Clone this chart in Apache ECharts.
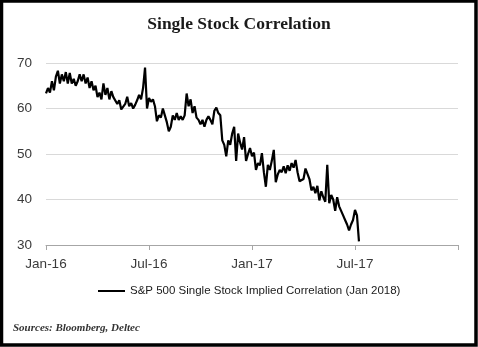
<!DOCTYPE html>
<html>
<head>
<meta charset="utf-8">
<script src="https://cdn.jsdelivr.net/npm/echarts@6/dist/echarts.min.js"></script>
<style>
html,body{margin:0;padding:0;background:#fff;}
#chart{width:478px;height:347px;}
</style>
</head>
<body>
<div id="chart"></div>
<script>
// Half-week steps from Jan-16 to Jan-18 (208 steps), ticks every 52 steps (half a year)
var tickLabels = ['Jan-16', 'Jul-16', 'Jan-17', 'Jul-17', ''];
var stepsPerTick = 52;
var totalSteps = 208;
var seriesName = 'S&P 500 Single Stock Implied Correlation (Jan 2018)';
var correlation = [63.3,64.5,63.5,66,64,67,68.3,65.5,67.5,66,68,65.5,67.8,65.5,66.5,65,66,67.5,66,67.5,
65.5,66.8,64.5,66,64,65,62.5,63.5,62,65.5,63,64.5,62,63.8,62.5,62.3,61,61.8,59.8,59.5,
61,62.6,60.5,61.2,60,60.8,61.8,63,62,64.5,69,60,62.3,61.5,62,60.5,57.2,58.5,58,60,
58.5,57,55,56,58.5,57.5,59,57.5,58.3,57.5,58.5,63.3,60.5,62,59,60.5,58,57.5,56.5,57.5,
56,57.5,58.3,57.5,56.5,59.5,60.2,59,58.5,53,52,49.5,53,52,54.5,56,48.5,54.5,52.5,51,
53.7,48.5,50,51.3,49.5,50.3,46.5,48,47.5,50.2,46,42.8,47.6,46.5,48.5,50.9,43.8,45.5,46.5,46,
47.3,45.8,47.5,46.3,48,47,48.7,46,44,43.8,44.5,46.8,47.2,44.5,42,42.8,41.4,43,39.8,41.8,
40.5,39.5,47.6,39.2,41,40,37.5,40.5,38.5,37.5,36.5,35.5,34.5,33.2,34.5,35.5,37.7,36.5,30.8];

var categories = [];
for (var i = 0; i <= totalSteps; i++) categories.push('s' + i);

var chart = echarts.init(document.getElementById('chart'), null, {renderer: 'canvas'});
chart.setOption({
  animation: false,
  backgroundColor: '#ffffff',
  title: {
    text: 'Single Stock Correlation',
    left: 'center',
    top: 10,
    textStyle: {fontFamily: 'Liberation Serif', fontWeight: 'bold', fontSize: 17.5, color: '#1a1a1a'}
  },
  grid: {left: 46, right: 20, top: 63, bottom: 102},
  xAxis: {
    type: 'category',
    data: categories,
    boundaryGap: false,
    axisLine: {lineStyle: {color: '#a6a6a6', width: 1}},
    axisTick: {show: true, interval: stepsPerTick - 1, length: 5, lineStyle: {color: '#a6a6a6'}},
    axisLabel: {
      interval: 0,
      margin: 12,
      fontFamily: 'Liberation Sans',
      fontSize: 13.5,
      color: '#3a3a3a',
      formatter: function (v, idx) {
        return idx % stepsPerTick === 0 ? tickLabels[idx / stepsPerTick] : '';
      }
    },
    splitLine: {show: false}
  },
  yAxis: {
    type: 'value',
    min: 30, max: 70, interval: 10,
    axisLine: {show: false},
    axisTick: {show: false},
    axisLabel: {margin: 14, fontFamily: 'Liberation Sans', fontSize: 13.5, color: '#3a3a3a'},
    splitLine: {lineStyle: {color: '#d9d9d9', width: 1}}
  },
  legend: {
    data: [seriesName],
    left: 93,
    top: 280,
    icon: 'rect',
    itemWidth: 27,
    itemHeight: 2,
    textStyle: {fontFamily: 'Liberation Sans', fontSize: 11.5, color: '#1a1a1a'}
  },
  series: [{
    name: seriesName,
    type: 'line',
    data: correlation,
    symbol: 'none',
    lineStyle: {color: '#000000', width: 2.2},
    itemStyle: {color: '#000000'}
  }],
  graphic: [
    {
      type: 'rect',
      shape: {x: 1.5, y: 1, width: 474.5, height: 344},
      style: {fill: 'none', stroke: '#000', lineWidth: 3.5},
      silent: true
    },
    {
      type: 'text',
      left: 13,
      top: 323,
      style: {text: 'Sources: Bloomberg, Deltec', font: 'italic bold 11px "Liberation Serif"', fill: '#333333'}
    }
  ]
});
</script>
</body>
</html>
